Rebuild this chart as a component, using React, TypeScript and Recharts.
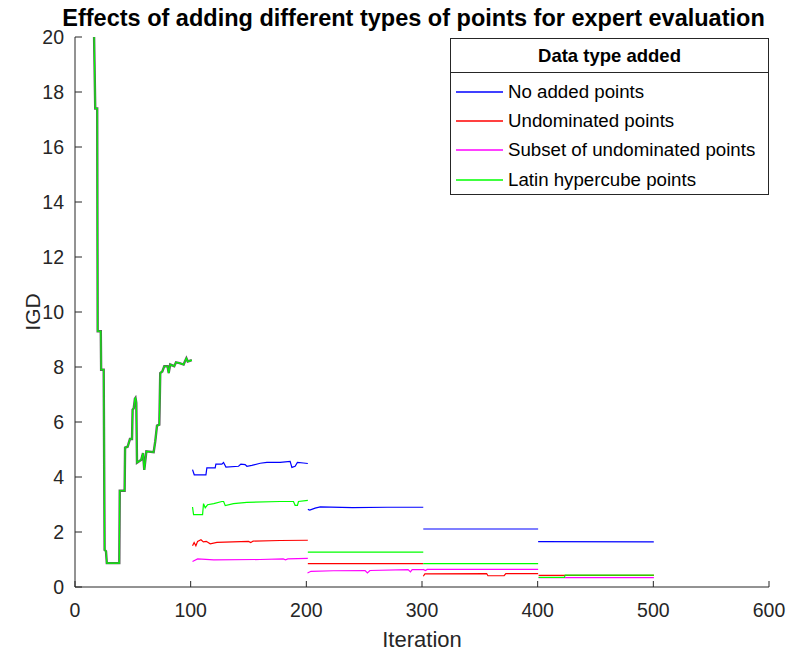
import React from 'react';
import { LineChart, Line, XAxis, YAxis, Legend } from 'recharts';

type Pt = [number, number];

// shared run before the data types split off (iterations ~17-101)
const warmupRun: Pt[] = [
    [16.5, 20], [17.5, 17.4], [19.2, 17.4], [19.6, 9.3], [22.3, 9.3], [22.6, 7.9], [24.8, 7.9],
    [25.6, 1.35], [26.8, 1.3], [27.5, 0.87], [38.3, 0.87], [38.7, 3.5], [42.9, 3.5], [43.3, 5.07],
    [45.5, 5.1], [46.5, 5.24], [47.5, 5.38], [49.3, 5.38], [49.8, 6.45], [50.8, 6.5], [51.8, 6.85],
    [52.3, 6.88], [53, 6.7], [53.6, 4.52], [57.3, 4.63], [58.8, 4.87], [59.9, 4.26], [61.7, 4.93],
    [68, 4.9], [69.4, 5.3], [70.9, 5.87], [72.9, 5.9], [73.7, 7.78], [75.5, 7.84], [77.2, 8.03],
    [80, 8.03], [81, 7.78], [82.3, 8.09], [85.8, 8.03], [87.3, 8.17], [90.4, 8.14], [93.9, 8.09],
    [95, 8.2], [96.3, 8.32], [97.5, 8.2], [101, 8.25],
];

// No added points
const noAdded200: Pt[] = [
    [101.6, 4.27], [103.1, 4.08], [113.2, 4.08], [114, 4.33], [121.2, 4.33], [121.8, 4.47], [127, 4.47],
    [128.4, 4.53], [130.5, 4.36], [141.4, 4.39], [143.4, 4.47], [147.1, 4.45], [148.6, 4.39], [152.9, 4.42],
    [160.1, 4.5], [165.9, 4.53], [177.4, 4.53], [186, 4.57], [187.5, 4.35], [190.3, 4.39], [192.3, 4.53],
    [197.5, 4.51], [201.3, 4.49],
];
const noAdded300: Pt[] = [[201.3, 2.82], [203, 2.8], [207.6, 2.87], [212, 2.91], [240, 2.89], [270, 2.9], [301.1, 2.9]];
const noAdded400: Pt[] = [[301.1, 2.11], [400.4, 2.11]];
const noAdded500: Pt[] = [[400.4, 1.65], [500.4, 1.64]];

// Undominated points
const undom200: Pt[] = [
    [101.6, 1.5], [103, 1.62], [104.5, 1.5], [106, 1.66], [108.9, 1.72], [111, 1.64], [113.5, 1.66],
    [116.9, 1.57], [122.7, 1.62], [150, 1.66], [152, 1.62], [154, 1.67], [177.4, 1.69], [201.3, 1.7],
];
const undom300: Pt[] = [[201.3, 0.85], [301.1, 0.85]];
const undom400: Pt[] = [[301.1, 0.39], [302.5, 0.48], [355.9, 0.49], [357, 0.41], [371, 0.41], [372.5, 0.49], [400.4, 0.49]];
const undom500: Pt[] = [[400.8, 0.42], [500.5, 0.42]];

// Subset of undominated points
const subset200: Pt[] = [[101.6, 0.93], [106, 1.02], [120, 0.99], [160, 1.0], [180, 1.02], [182, 0.99], [184, 1.02], [201.3, 1.04]];
const subset300: Pt[] = [
    [201, 0.51], [204, 0.57], [223.4, 0.59], [250.8, 0.6], [252.8, 0.51], [255, 0.6], [288, 0.63],
    [290, 0.55], [291.5, 0.63], [301, 0.63],
];
const subset400: Pt[] = [[301, 0.64], [303, 0.6], [304.5, 0.64], [400.4, 0.64]];
const subset500: Pt[] = [[400.8, 0.34], [500.5, 0.34]];

// Latin hypercube points
const latin200: Pt[] = [
    [101.6, 2.91], [102.5, 2.63], [110.3, 2.63], [111.1, 3.03], [112.6, 2.88], [114.6, 2.99], [120, 3.03],
    [127, 3.11], [128.5, 3.11], [129.9, 2.96], [137, 3.03], [148.6, 3.08], [177.4, 3.11], [188.9, 3.11],
    [190.3, 2.97], [192.3, 2.97], [193.2, 3.11], [201.3, 3.15],
];
const latin300: Pt[] = [[201.3, 1.27], [301.1, 1.27]];
const latin400: Pt[] = [[301.1, 0.85], [400.4, 0.85]];
const latin500: Pt[] = [[400.8, 0.35], [423, 0.35], [423.8, 0.43], [500.5, 0.43]];

const seriesNames = ['No added points', 'Undominated points', 'Subset of undominated points', 'Latin hypercube points'];
const seriesColors = ['#0000ff', '#ff0000', '#ff00ff', '#00ff00'];
const seriesSegments: Pt[][][] = [
    [noAdded200, noAdded300, noAdded400, noAdded500],
    [undom200, undom300, undom400, undom500],
    [subset200, subset300, subset400, subset500],
    [latin200, latin300, latin400, latin500],
];

const xTicks = [0, 100, 200, 300, 400, 500, 600];
const yTicks = [0, 2, 4, 6, 8, 10, 12, 14, 16, 18, 20];

// join segments, with a null row in between so each block is drawn on its own
const toRows = (segments: Pt[][]) =>
    segments.flatMap((seg, i) => {
        const rows: { iter: number; igd: number | null }[] = seg.map(([iter, igd]) => ({ iter, igd }));
        if (i < segments.length - 1) rows.push({ iter: seg[seg.length - 1][0], igd: null });
        return rows;
    });

const warmupRows = toRows([warmupRun]);
const seriesRows = seriesSegments.map(toRows);

const FONT = '"Liberation Sans", Arial, Helvetica, sans-serif';
const AXIS = '#262626';
const W = 789;
const H = 652;

const LegendBox = () => (
    <div style={{ width: 319, height: 157, boxSizing: 'border-box', border: `1px solid ${AXIS}`, background: '#fff', fontFamily: FONT }}>
        <div style={{ height: 33, lineHeight: '33px', textAlign: 'center', fontWeight: 'bold', fontSize: 18.5, color: '#000', borderBottom: `1px solid ${AXIS}` }}>
            Data type added
        </div>
        <div style={{ paddingTop: 4 }}>
            {seriesNames.map((name, i) => (
                <div key={name} style={{ height: 29.3, display: 'flex', alignItems: 'center', fontSize: 18.7, color: '#000' }}>
                    <svg width={52} height={6} style={{ display: 'block' }}>
                        <line x1={5} x2={52} y1={3} y2={3} stroke={seriesColors[i]} strokeWidth={1.3} />
                    </svg>
                    <span style={{ marginLeft: 5 }}>{name}</span>
                </div>
            ))}
        </div>
    </div>
);

const App: React.FC = () => {
    return (
        <div style={{ position: 'relative', width: W, height: H, fontFamily: FONT }}>
            {/* the figure fills the whole window, so drop the page margin and scrollbars */}
            <style>{'html, body { margin: 0; padding: 0; overflow: hidden; }'}</style>
            <div style={{ position: 'absolute', top: 7, left: 38, width: 751, textAlign: 'center', whiteSpace: 'nowrap', fontSize: 23.5, lineHeight: '23px', fontWeight: 'bold', color: '#000', zIndex: 2 }}>
                Effects of adding different types of points for expert evaluation
            </div>
            <LineChart width={W} height={H} margin={{ top: 37, right: 20, left: 0, bottom: 20 }} style={{ overflow: 'visible' }}>
                <XAxis
                    dataKey="iter"
                    type="number"
                    domain={[0, 600]}
                    ticks={xTicks}
                    height={45}
                    stroke={AXIS}
                    tickSize={-6}
                    tickMargin={22}
                    tick={{ fill: AXIS, fontSize: 19.5, fontFamily: FONT }}
                    label={{ value: 'Iteration', position: 'bottom', offset: -1, fill: AXIS, fontSize: 22, fontFamily: FONT }}
                />
                <YAxis
                    type="number"
                    domain={[0, 20]}
                    ticks={yTicks}
                    width={75}
                    stroke={AXIS}
                    tickSize={-7}
                    tickMargin={18}
                    tick={{ fill: AXIS, fontSize: 19.5, fontFamily: FONT }}
                    label={{ value: 'IGD', angle: -90, position: 'insideLeft', offset: 33, fill: AXIS, fontSize: 21, fontFamily: FONT, style: { textAnchor: 'middle' } }}
                />
                <Legend
                    layout="vertical"
                    align="center"
                    verticalAlign="middle"
                    content={() => <LegendBox />}
                    wrapperStyle={{ left: 450, top: 38, width: 319, height: 157 }}
                />
                <Line data={warmupRows} dataKey="igd" stroke="#5e5e5e" strokeWidth={2.4} dot={false} activeDot={false} isAnimationActive={false} />
                <Line data={warmupRows} dataKey="igd" stroke="#00ff00" strokeWidth={1.1} dot={false} activeDot={false} isAnimationActive={false} />
                {seriesRows.map((rows, i) => (
                    <Line
                        key={seriesNames[i]}
                        name={seriesNames[i]}
                        data={rows}
                        dataKey="igd"
                        stroke={seriesColors[i]}
                        strokeWidth={1.2}
                        dot={false}
                        activeDot={false}
                        isAnimationActive={false}
                    />
                ))}
            </LineChart>
        </div>
    );
};

export default App;
